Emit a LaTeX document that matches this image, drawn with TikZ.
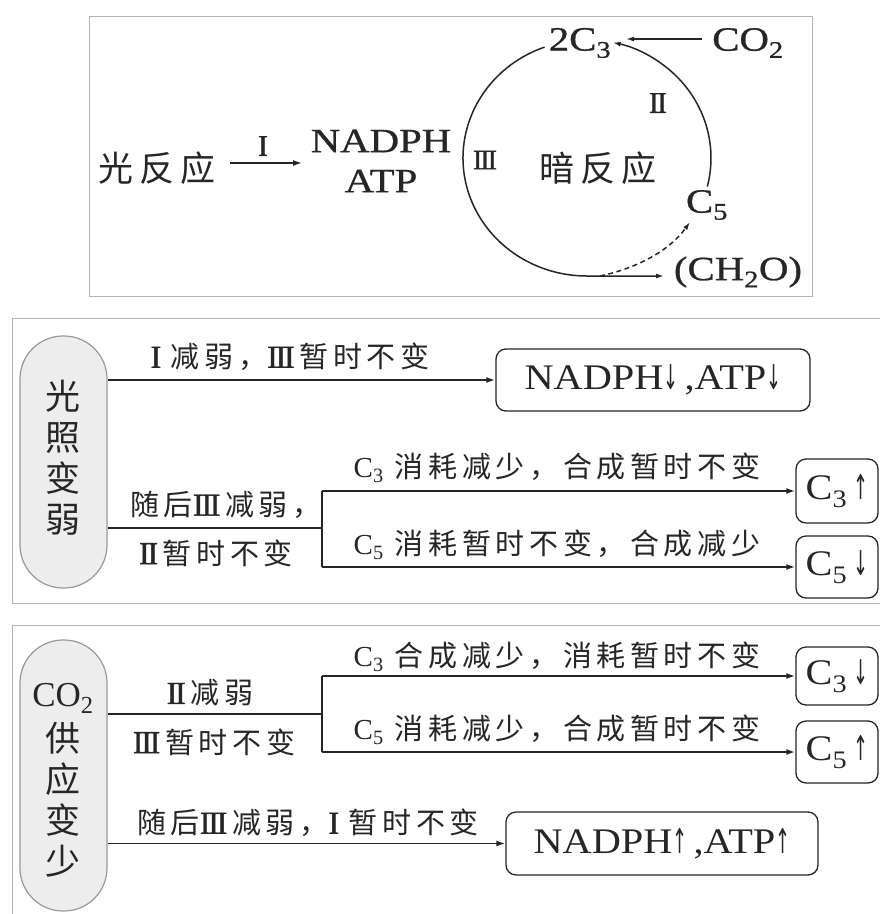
\documentclass[tikz,border=0pt]{standalone}
\usepackage{fontspec}
\setmainfont{Liberation Serif}
\newfontfamily\cjk[LetterSpace=16]{Noto Sans CJK SC}
\newfontfamily\cjkv{Noto Sans CJK SC}
\newfontfamily\widef[FakeStretch=1.2,FakeBold=0.8]{Liberation Serif}
\newfontfamily\boxf[FakeStretch=1.12]{Liberation Serif}
\newfontfamily\romf[FakeBold=1.2]{Liberation Serif}
\newfontfamily\symf{DejaVu Sans}
\usetikzlibrary{arrows.meta}
\definecolor{ink}{HTML}{262626}
\definecolor{framec}{HTML}{B4B4B4}
\definecolor{pillfill}{HTML}{EDEDED}
\definecolor{pilldraw}{HTML}{9A9A9A}
\newcommand\rI{I}
\newcommand\rII{I\kern-0.07em I}
\newcommand\rIII{I\kern-0.07em I\kern-0.07em I}
\newcommand\lat[1]{{\romf\fontsize{32}{34}\selectfont #1}}
\newcommand\Cs[1]{{\rmfamily C\textsubscript{#1}}}
\newcommand\dnar{\scalebox{0.5}[0.95]{\symf ↓}}
\newcommand\upar{\scalebox{0.5}[0.95]{\symf ↑}}
\tikzset{
  lbl/.style={font=\cjk\fontsize{29}{31}\selectfont, inner sep=0pt, text=ink},
  big/.style={font=\cjk\fontsize{35}{38}\selectfont, inner sep=0pt, text=ink},
  wlat/.style={font=\widef\fontsize{34}{36}\selectfont, inner sep=0pt, text=ink},
  roman/.style={font=\romf\fontsize{30}{32}\selectfont, inner sep=0pt, text=ink},
  arr/.style={-{Latex[length=9pt,width=6pt]}, line width=1.7pt, draw=ink},
  ln/.style={line width=1.7pt, draw=ink},
  frm/.style={draw=framec, line width=1pt},
  pill/.style={draw=pilldraw, fill=pillfill, line width=1.2pt, rounded corners=43pt, minimum width=87pt, inner sep=0pt},
  rbox/.style={draw=ink, line width=1.3pt, rounded corners=10pt, inner sep=0pt, font=\boxf\fontsize{36}{38}\selectfont, text=ink},
  pilltext/.style={font=\cjkv\fontsize{35}{41}\selectfont, align=center, inner sep=0pt, text=ink}
}
\begin{document}
\begin{tikzpicture}[x=1pt,y=-1pt]
\useasboundingbox (0,0) rectangle (880,914);
\fill[white] (0,0) rectangle (880,914);

% ---------- top diagram ----------
\draw[frm] (89,16) rectangle (812,296);
\node[big] (lr) at (157,168) {光反应};
\node[roman] (n1) at (263,146) {\rI};
\coordinate (a1s) at (230,163);
\coordinate (a1e) at (302,163);
\draw[arr, line width=1.5pt] (a1s) -- (a1e);
\node[wlat] (nadph) at (381,141) {NADPH};
\node[wlat] (atp) at (381,181) {ATP};
\node[wlat] (c3t) at (580,43) {2C\textsubscript{3}};
\node[wlat] (co2t) at (748,43) {CO\textsubscript{2}};
\node[roman] (n2) at (658,103) {\rII};
\node[roman, font=\romf\fontsize{28}{30}\selectfont] (n3) at (485,160) {\rIII};
\node[big] (dark) at (598,168) {暗反应};
\node[wlat] (c5t) at (707,205) {C\textsubscript{5}};
\node[wlat] (cho) at (738,272) {(CH\textsubscript{2}O)};
\coordinate (cc) at (587,158);
\coordinate (chin) at (664,276);
\coordinate (db) at (600,276);
\coordinate (c5in) at (690,222);
\coordinate (co2s) at (702,39);
\coordinate (co2e) at (626,39);
\draw[ln, line width=1.5pt, -{Latex[length=8pt,width=5pt]}] ([shift={(250:124 and 118)}]cc) arc[start angle=250, end angle=90, x radius=124, y radius=118] -- (chin);
\draw[ln, line width=1.5pt, dash pattern=on 5pt off 3.5pt, -{Latex[length=8pt,width=5pt]}] (db) .. controls (638,268) and (670,250) .. (c5in);
\draw[ln, line width=1.5pt, -{Latex[length=8pt,width=5pt]}] ([shift={(14:124 and 118)}]cc) arc[start angle=14, end angle=-78, x radius=124, y radius=118];
\draw[ln, line width=1.5pt, -{Latex[length=8pt,width=5pt]}] (co2s) -- (co2e);

% ---------- middle panel ----------
\draw[frm] (12,318) rectangle (882,603);
\node[pill, minimum height=252pt] (p1) at (63.5,462) {};
\node[pilltext] (p1t) at (63,458) {光\\照\\变\\弱};
\node[rbox, minimum width=314pt, minimum height=62pt] (b1) at (653,380) {NADPH\dnar\,,ATP\dnar};
\node[rbox, minimum width=82pt, minimum height=64pt] (b2) at (837,491) {C\textsubscript{3}\,\upar};
\node[rbox, minimum width=82pt, minimum height=62pt] (b3) at (837,567) {C\textsubscript{5}\,\dnar};
\draw[arr] (p1.east |- b1.west) -- (b1.west);
\node[lbl] (l1) at (290,357) {\lat{\rI}\,\,减弱，\lat{\rIII}\,暂时不变};
\coordinate (j1) at (322,528);
\draw[ln] (p1.east |- j1) -- (j1);
\draw[ln] (j1 |- b2.west) -- (j1 |- b3.west);
\draw[arr] (j1 |- b2.west) -- (b2.west);
\draw[arr] (j1 |- b3.west) -- (b3.west);
\node[lbl] (l3) at (226,505) {随后\lat{\rIII}\,减弱，};
\node[lbl] (l4) at (216,553) {\lat{\rII}\,暂时不变};
\node[lbl] (l2) at (557,468) {\Cs{3}\ 消耗减少，合成暂时不变};
\node[lbl] (l5) at (557,545) {\Cs{5}\ 消耗暂时不变，合成减少};

% ---------- bottom panel ----------
\draw[frm] (12,625) rectangle (882,916);
\node[pill, minimum height=271pt] (p2) at (63.5,775.5) {};
\node[pilltext] (p2t) at (63,780) {{\rmfamily CO\textsubscript{2}}\\[4pt]供\\应\\变\\少};
\node[rbox, minimum width=82pt, minimum height=58pt] (b4) at (837,676) {C\textsubscript{3}\,\dnar};
\node[rbox, minimum width=82pt, minimum height=62pt] (b5) at (837,752) {C\textsubscript{5}\,\upar};
\node[rbox, minimum width=312pt, minimum height=63pt] (b6) at (662,843.5) {NADPH\upar\,,ATP\upar};
\coordinate (j2) at (322,714);
\draw[ln] (p2.east |- j2) -- (j2);
\draw[ln] (j2 |- b4.west) -- (j2 |- b5.west);
\draw[arr] (j2 |- b4.west) -- (b4.west);
\draw[arr] (j2 |- b5.west) -- (b5.west);
\draw[arr] (p2.east |- b6.west) -- (b6.west);
\node[lbl] (l6) at (210,693) {\lat{\rII}\,减弱};
\node[lbl] (l7) at (214,742) {\lat{\rIII}\,暂时不变};
\node[lbl] (l8) at (557,657) {\Cs{3}\ 合成减少，消耗暂时不变};
\node[lbl] (l9) at (557,730) {\Cs{5}\ 消耗减少，合成暂时不变};
\node[lbl] (l10) at (308,823) {随后\lat{\rIII}\,减弱，\lat{\rI}\,\,暂时不变};
\end{tikzpicture}
\end{document}
